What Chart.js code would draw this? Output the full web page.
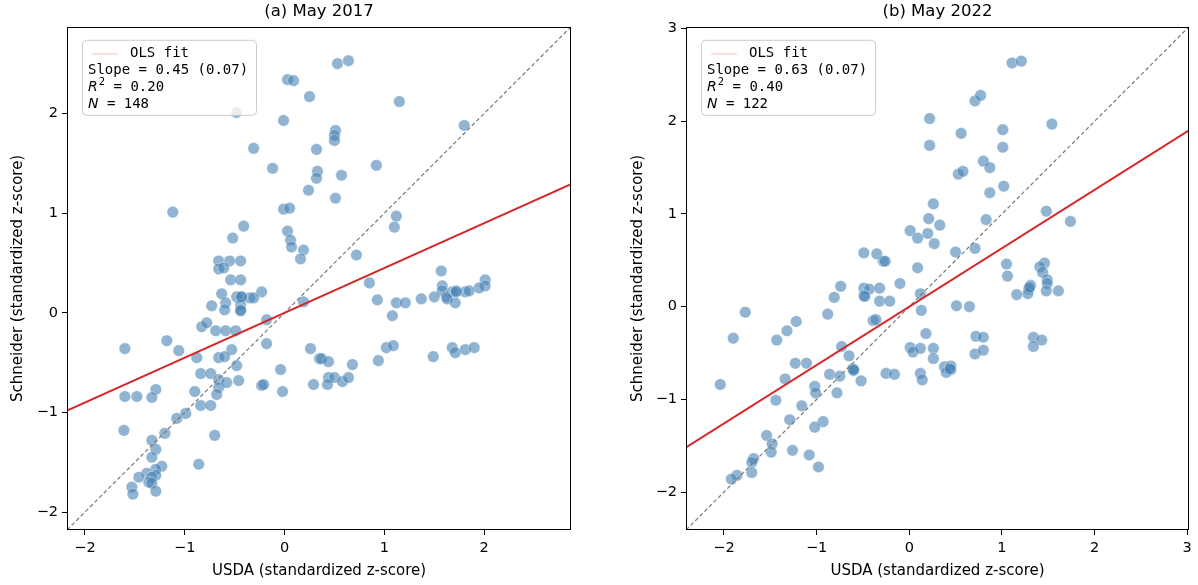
<!DOCTYPE html>
<html>
<head>
<meta charset="utf-8">
<script src="https://cdn.jsdelivr.net/npm/chart.js@4/dist/chart.umd.min.js"></script>
<style>
  html, body { margin: 0; padding: 0; background: #fff; }
  #wrap { position: relative; width: 1198px; height: 585px; }
  canvas { position: absolute; top: 0; }
  #c1 { left: 0; }
  #c2 { left: 599px; }
</style>
</head>
<body>
<div id="wrap">
  <canvas id="c1" width="599" height="585"></canvas>
  <canvas id="c2" width="599" height="585"></canvas>
</div>
<script>
const titles = ["(a) May 2017", "(b) May 2022"];
const xLabel = "USDA (standardized z-score)";
const yLabel = "Schneider (standardized z-score)";

const slopes = [0.45, 0.63];
const slopeSE = [0.07, 0.07];
const rSquared = [0.20, 0.40];
const nObs = [148, 122];

const limits2017 = [-2.18, 2.87];
const limits2022 = [-2.41, 3.02];
const ticks2017 = [-2, -1, 0, 1, 2];
const ticks2022 = [-2, -1, 0, 1, 2, 3];

// May 2017 scatter
const usda2017 = [
  0.03, 0.09, 0.25, -0.48, -0.01, -0.31, 0.32, -0.12, 0.33, 0.32,
  0.24, -0.01, 0.05, -1.12, 0.53, 0.64, 1.15, 0.51, 0.50, 0.50,
  1.80, 0.92, 0.57, 0.51, 1.12, -0.41, 0.03, -0.52, 0.06, 0.07,
  0.19, 0.16, -0.66, -0.55, -0.44, -0.66, -0.61, -0.54, -0.44, -0.23,
  -0.63, -0.48, -0.44, -0.35, -0.31, -0.59, -0.44, 0.19, -0.73, -0.60,
  -0.44, -0.44, -0.18, -0.83, -0.78, -0.69, -0.59, -0.49, -0.18, -1.18,
  -1.60, -1.06, -0.53, 0.26, -0.88, -0.66, -0.60, -0.48, 0.35, -0.04,
  -0.84, -0.74, -0.66, -0.66, -0.46, -0.58, -0.23, -0.21, -0.02, 0.29,
  -0.90, -0.68, -1.29, -1.60, -1.48, -1.33, -0.84, -0.74, -0.99, -1.08,
  -1.61, -1.20, -0.70, -1.33, -1.29, -1.33, -0.86, -1.23, -1.29, -1.38,
  -1.29, -1.46, -1.33, -1.36, -1.33, -1.53, -1.29, -1.52, 1.10, 0.72,
  1.57, 0.85, 2.01, 2.01, 1.95, 1.58, 1.58, 1.68, 1.72, 1.81,
  1.85, 1.62, 1.63, 1.71, 0.93, 1.12, 1.21, 1.37, 1.50, 1.08,
  1.02, 1.09, 0.37, 0.44, 0.68, 0.94, 1.49, 1.68, 1.71, 1.81,
  1.90, 0.44, 0.50, 0.58, 0.64, 0.43, 1.72, -0.43
];
const schneider2017 = [
  2.34, 2.33, 2.17, 2.01, 1.93, 1.65, 1.64, 1.45, 1.42, 1.35,
  1.23, 1.04, 1.05, 1.01, 2.50, 2.53, 2.12, 1.83, 1.78, 1.73,
  1.88, 1.48, 1.38, 1.15, 0.97, 0.87, 0.82, 0.75, 0.73, 0.66,
  0.63, 0.54, 0.52, 0.52, 0.52, 0.44, 0.45, 0.33, 0.33, 0.21,
  0.19, 0.16, 0.16, 0.15, 0.15, 0.10, 0.08, 0.11, 0.07, 0.03,
  0.03, 0.02, -0.07, -0.14, -0.10, -0.18, -0.18, -0.18, -0.31, -0.28,
  -0.36, -0.38, -0.37, -0.36, -0.45, -0.45, -0.44, -0.53, -0.46, -0.57,
  -0.61, -0.61, -0.67, -0.75, -0.68, -0.70, -0.73, -0.72, -0.79, -0.72,
  -0.79, -0.82, -0.77, -0.84, -0.84, -0.85, -0.93, -0.93, -1.01, -1.06,
  -1.18, -1.21, -1.23, -1.28, -1.37, -1.45, -1.52, -1.54, -1.57, -1.61,
  -1.63, -1.65, -1.65, -1.70, -1.71, -1.75, -1.79, -1.82, 0.86, 0.58,
  0.42, 0.30, 0.33, 0.27, 0.25, 0.27, 0.22, 0.21, 0.22, 0.21,
  0.22, 0.16, 0.14, 0.10, 0.13, 0.10, 0.10, 0.14, 0.16, -0.03,
  -0.35, -0.33, -0.46, -0.49, -0.52, -0.48, -0.44, -0.35, -0.40, -0.37,
  -0.35, -0.65, -0.65, -0.69, -0.65, -0.72, 0.21, 0.16
];

// May 2022 scatter
const usda2022 = [
  0.22, 0.22, 0.26, 0.21, 1.11, 1.21, 0.71, 0.77, 1.54, 0.56,
  1.01, 1.01, 0.80, 0.87, 0.53, 0.58, 1.02, 0.87, 1.48, 0.83,
  1.74, 0.33, 0.01, 0.20, 0.09, 0.27, -0.49, -0.35, -0.28, -0.26,
  0.09, -0.10, -0.74, -0.49, -0.43, -0.32, -0.49, -0.48, -0.81, -0.32,
  -0.21, 0.12, 0.13, -1.77, -0.88, -0.39, -0.36, -1.22, -1.32, 0.18,
  -1.90, -1.43, -0.73, 0.01, 0.04, 0.12, 0.26, -0.65, 0.26, -1.23,
  -1.11, -0.61, -0.60, -0.86, -0.75, -0.25, -0.16, 0.12, 0.14, -1.34,
  -0.52, -2.04, -1.02, -1.01, -0.78, -1.44, 0.50, 0.71, 1.05, 1.06,
  1.46, 1.41, 1.44, 1.49, 1.49, 1.48, 1.61, 1.31, 1.29, 1.28,
  1.16, 0.51, 0.65, 0.72, 0.80, 0.71, 0.80, 1.34, 1.43, 1.34,
  0.38, 0.45, 0.45, 0.40, -1.16, -1.29, -0.93, -1.02, -1.54, -1.48,
  -1.49, -1.26, -1.08, -0.98, -1.68, -1.70, -1.70, -1.86, -1.92, 1.30,
  0.44, -0.60
];
const schneider2022 = [
  2.03, 1.74, 1.11, 0.95, 2.63, 2.65, 2.22, 2.28, 1.97, 1.87,
  1.91, 1.72, 1.57, 1.50, 1.43, 1.46, 1.30, 1.23, 1.03, 0.94,
  0.92, 0.88, 0.82, 0.79, 0.74, 0.68, 0.58, 0.57, 0.49, 0.49,
  0.42, 0.25, 0.22, 0.20, 0.19, 0.20, 0.12, 0.11, 0.10, 0.06,
  0.06, 0.14, -0.04, -0.06, -0.08, -0.15, -0.14, -0.16, -0.26, -0.29,
  -0.34, -0.36, -0.43, -0.44, -0.49, -0.45, -0.45, -0.53, -0.56, -0.61,
  -0.61, -0.67, -0.69, -0.73, -0.75, -0.72, -0.73, -0.72, -0.79, -0.78,
  -0.80, -0.84, -0.86, -0.93, -0.93, -1.01, 0.59, 0.63, 0.46, 0.33,
  0.47, 0.43, 0.37, 0.29, 0.25, 0.17, 0.17, 0.23, 0.19, 0.14,
  0.13, 0.01, 0.00, -0.32, -0.33, -0.51, -0.47, -0.33, -0.36, -0.43,
  -0.65, -0.64, -0.68, -0.71, -1.07, -1.22, -1.24, -1.30, -1.39, -1.48,
  -1.57, -1.55, -1.60, -1.73, -1.64, -1.68, -1.79, -1.82, -1.86, 0.21,
  -0.67, -0.68
];

const FONT = "'DejaVu Sans', sans-serif";
const MONO = "'DejaVu Sans Mono', monospace";

const framePlugin = {
  id: "frame",
  afterDatasetsDraw(chart) {
    const a = chart.chartArea;
    const ctx = chart.ctx;
    ctx.save();
    ctx.strokeStyle = "#000";
    ctx.lineWidth = 1;
    ctx.strokeRect(Math.round(a.left) + 0.5, Math.round(a.top) + 0.5,
      Math.round(a.right - a.left) - 1, Math.round(a.bottom - a.top) - 1);
    ctx.restore();
  }
};

const statsBoxPlugin = {
  id: "statsBox",
  afterDatasetsDraw(chart, args, opts) {
    const a = chart.chartArea;
    const ctx = chart.ctx;
    const x0 = a.left + 15, y0 = a.top + 13, w = 174, h = 75;
    ctx.save();
    ctx.beginPath();
    ctx.roundRect(x0 + 0.5, y0 + 0.5, w, h, 4);
    ctx.fillStyle = "rgba(255,255,255,0.8)";
    ctx.fill();
    ctx.strokeStyle = "#cccccc";
    ctx.lineWidth = 1;
    ctx.stroke();

    // faint handle for the fit line
    ctx.strokeStyle = "rgba(214,39,40,0.15)";
    ctx.lineWidth = 2;
    ctx.beginPath();
    ctx.moveTo(x0 + 10, y0 + 14);
    ctx.lineTo(x0 + 36, y0 + 14);
    ctx.stroke();

    ctx.fillStyle = "#000";
    ctx.textBaseline = "middle";
    ctx.textAlign = "left";
    ctx.font = "14px " + MONO;
    ctx.fillText("OLS fit", x0 + 48, y0 + 14);
    ctx.fillText("Slope = " + opts.slope.toFixed(2) + " (" + opts.se.toFixed(2) + ")", x0 + 6, y0 + 31);

    // R^2 line
    let tx = x0 + 6;
    ctx.font = "italic 14px " + FONT;
    ctx.fillText("R", tx, y0 + 48);
    tx += ctx.measureText("R").width + 1;
    ctx.font = "10px " + FONT;
    ctx.fillText("2", tx, y0 + 43);
    tx += ctx.measureText("2").width;
    ctx.font = "14px " + MONO;
    ctx.fillText(" = " + opts.r2.toFixed(2), tx, y0 + 48);

    // N line
    tx = x0 + 6;
    ctx.font = "italic 14px " + FONT;
    ctx.fillText("N", tx, y0 + 65);
    tx += ctx.measureText("N").width;
    ctx.font = "14px " + MONO;
    ctx.fillText(" = " + opts.n, tx, y0 + 65);
    ctx.restore();
  }
};

function makeChart(id, idx, xs, ys, lim, tickVals, yAxisWidth, yTitlePad) {
  const pts = xs.map((x, i) => ({ x: x, y: ys[i] }));
  const slope = slopes[idx];
  const fit = [{ x: lim[0], y: slope * lim[0] }, { x: lim[1], y: slope * lim[1] }];
  const diag = [{ x: lim[0], y: lim[0] }, { x: lim[1], y: lim[1] }];

  const axis = (title, isY) => ({
    type: "linear",
    min: lim[0],
    max: lim[1],
    border: { display: false },
    grid: {
      display: true,
      drawOnChartArea: false,
      drawTicks: true,
      tickLength: 5,
      tickColor: "#000",
      tickWidth: 1
    },
    ticks: {
      color: "#000",
      font: { family: FONT, size: 14.5 },
      padding: isY ? 4 : 5,
      includeBounds: false,
      callback: (v) => String(v).replace("-", "\u2212")
    },
    afterBuildTicks: (scale) => {
      scale.ticks = tickVals.map((v) => ({ value: v }));
    },
    afterFit: (scale) => {
      if (isY) scale.width = yAxisWidth;
      else scale.height = 55;
    },
    title: {
      display: true,
      text: title,
      color: "#000",
      font: { family: FONT, size: 15 },
      padding: isY ? { top: yTitlePad, bottom: 0 } : { top: 0, bottom: 5 }
    }
  });

  return new Chart(document.getElementById(id).getContext("2d"), {
    type: "scatter",
    data: {
      datasets: [
        {
          type: "line",
          data: fit,
          borderColor: "#d62728",
          borderWidth: 2,
          pointRadius: 0,
          order: 1
        },
        {
          type: "line",
          data: diag,
          borderColor: "#7a7a7a",
          borderWidth: 1.2,
          borderDash: [4, 2.5],
          pointRadius: 0,
          order: 2
        },
        {
          data: pts,
          backgroundColor: "rgba(70,130,180,0.6)",
          borderColor: "rgba(255,255,255,0.6)",
          borderWidth: 0.6,
          pointRadius: 5.8,
          order: 3
        }
      ]
    },
    options: {
      responsive: false,
      animation: false,
      layout: { padding: { left: 0, right: idx === 0 ? 28 : 9, top: 0, bottom: 0 } },
      scales: {
        x: axis(xLabel, false),
        y: axis(yLabel, true)
      },
      plugins: {
        legend: { display: false },
        tooltip: { enabled: false },
        title: {
          display: true,
          text: titles[idx],
          fullSize: false,
          color: "#000",
          font: { family: FONT, size: 16.5, weight: "normal" },
          padding: { top: 2, bottom: 5 }
        },
        statsBox: { slope: slope, se: slopeSE[idx], r2: rSquared[idx], n: nObs[idx] }
      }
    },
    plugins: [framePlugin, statsBoxPlugin]
  });
}

makeChart("c1", 0, usda2017, schneider2017, limits2017, ticks2017, 67, 9);
makeChart("c2", 1, usda2022, schneider2022, limits2022, ticks2022, 87, 30);
</script>
</body>
</html>
